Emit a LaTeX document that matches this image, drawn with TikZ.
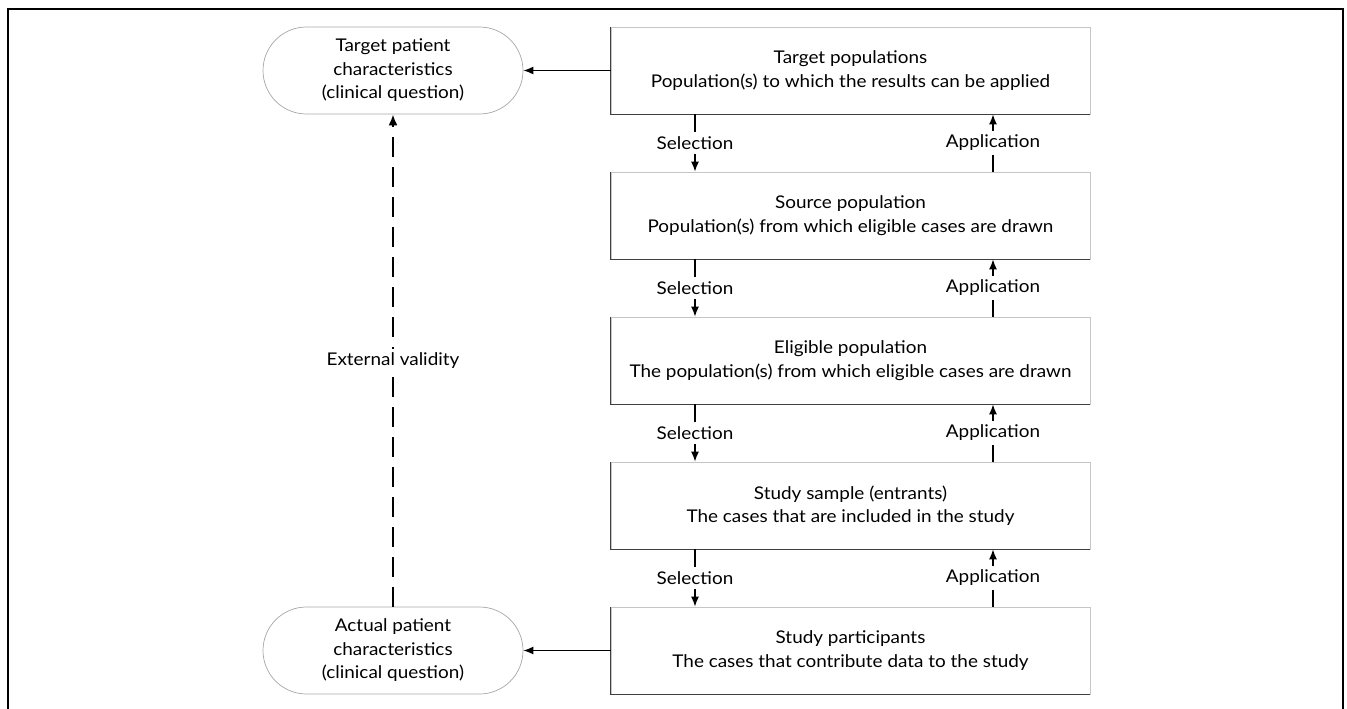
\documentclass[tikz,border=0pt]{standalone}
\usepackage{fontspec}
\setmainfont{Lato}[FakeStretch=1.08]
\usetikzlibrary{shapes.misc,arrows.meta}
\begin{document}
\begin{tikzpicture}[x=1pt,y=-1pt,
  txt/.style={font=\fontsize{17.5}{23.5}\selectfont},
  box/.style={txt, draw=gray!45, line width=0.8pt, minimum width=479pt, minimum height=87pt, align=center, inner sep=0pt},
  darkedge/.style={draw=black!75, line width=0.9pt},
  pill/.style={txt, rounded rectangle, draw=gray!70, line width=0.7pt, minimum width=260pt, minimum height=87pt, align=center, inner sep=0pt},
  conn/.style={line width=1.3pt, -{Latex[length=10pt,width=8pt]}},
  flowlbl/.style={txt, fill=white, inner sep=4pt},
  extline/.style={line width=2pt, dash pattern=on 20pt off 10pt, -{Latex[length=11pt,width=9pt]}}
]
\useasboundingbox (0,0) rectangle (1347,709);
\draw[line width=2pt] (8,709) -- (8,9) -- (1343,9) -- (1343,709);

\node[box] (b1) at (850.5,70.5) {Target populations\\Population(s) to which the results can be applied};
\node[box] (b2) at (850.5,215.5) {Source population\\Population(s) from which eligible cases are drawn};
\node[box] (b3) at (850.5,360.5) {Eligible population\\The population(s) from which eligible cases are drawn};
\node[box] (b4) at (850.5,505.5) {Study sample (entrants)\\The cases that are included in the study};
\node[box] (b5) at (850.5,650.5) {Study participants\\The cases that contribute data to the study};

\foreach \b in {b1,b2,b3,b4,b5}{
  \draw[darkedge] (\b.north west) -- (\b.south west) -- (\b.south east);
}

\node[pill] (p1) at (393,70.5) {Target patient\\characteristics\\(clinical question)};
\node[pill] (p2) at (393,650.5) {Actual patient\\characteristics\\(clinical question)};

\coordinate (sx) at (695,0);
\coordinate (ax) at (993,0);

\foreach \u/\l in {b1/b2,b2/b3,b3/b4,b4/b5}{
  \draw[conn] (\u.south -| sx) -- node[flowlbl]{Selection} (\l.north -| sx);
  \draw[conn] (\l.north -| ax) -- node[flowlbl]{Application} (\u.south -| ax);
}

\draw[conn] (b1.west) -- (p1.east);
\draw[conn] (b5.west) -- (p2.east);

\draw[extline] (p2.north) -- node[flowlbl]{External validity} (p1.south);
\end{tikzpicture}
\end{document}
